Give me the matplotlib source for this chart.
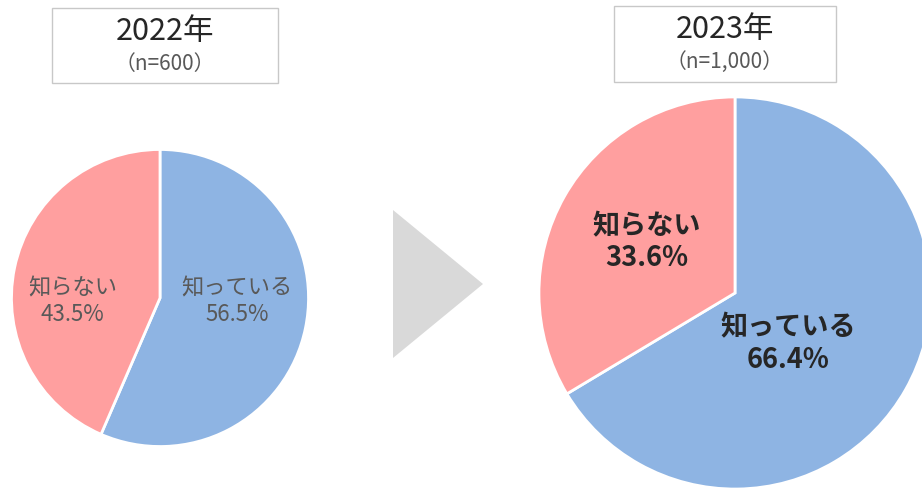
import matplotlib.pyplot as plt
from matplotlib.patches import Rectangle, Polygon

plt.rcParams['font.family'] = ['Noto Sans CJK JP', 'DejaVu Sans']

# データ
labels = ['知っている', '知らない']
vals_2022 = [56.5, 43.5]
vals_2023 = [66.4, 33.6]
years = ['2022年', '2023年']
n_labels = ['（n=600）', '（n=1,000）']
colors = ['#8EB4E3', '#FF9F9F']

W, H = 922, 488
fig = plt.figure(figsize=(W / 100, H / 100), dpi=100)

# 背景用の座標 (ピクセル)
bg = fig.add_axes([0, 0, 1, 1])
bg.set_xlim(0, W)
bg.set_ylim(H, 0)
bg.axis('off')


def pie_axes(cx, cy, r):
    return fig.add_axes([(cx - r) / W, (H - cy - r) / H, 2 * r / W, 2 * r / H])


def draw_pie(ax, vals, pos, size, color, weight):
    ax.pie(vals, colors=colors, startangle=90, counterclock=False,
           wedgeprops=dict(edgecolor='white', linewidth=2))
    for lab, v, (x, y) in zip(labels, vals, pos):
        ax.text(x, y, f'{lab}\n{v}%', ha='center', va='center', fontsize=size,
                color=color, fontweight=weight, linespacing=1.2)
    ax.set_xlim(-1.01, 1.01)
    ax.set_ylim(-1.01, 1.01)
    ax.set_aspect('equal')
    ax.axis('off')


ax1 = pie_axes(160, 298, 150)
draw_pie(ax1, vals_2022, [(0.52, -0.02), (-0.59, -0.02)], 16, '#595959', 'normal')

ax2 = pie_axes(735, 293, 198)
draw_pie(ax2, vals_2023, [(0.27, -0.26), (-0.45, 0.26)], 19.5, '#262626', 'bold')

# 見出しボックス
for (x0, x1, y0, y1), yr, nl in zip([(52, 278, 8, 83), (614, 836, 6, 82)], years, n_labels):
    bg.add_patch(Rectangle((x0, y0), x1 - x0, y1 - y0, facecolor='white',
                           edgecolor='#c8c8c8', linewidth=1))
    cx = (x0 + x1) / 2
    bg.text(cx, y0 + 23, yr, ha='center', va='center', fontsize=22, color='#262626')
    bg.text(cx, y0 + 56, nl, ha='center', va='center', fontsize=15, color='#595959')

# 矢印
bg.add_patch(Polygon([(393, 210), (393, 358), (483, 284)], closed=True,
                     facecolor='#d9d9d9', edgecolor='none'))

fig.savefig('out.png', dpi=100)
